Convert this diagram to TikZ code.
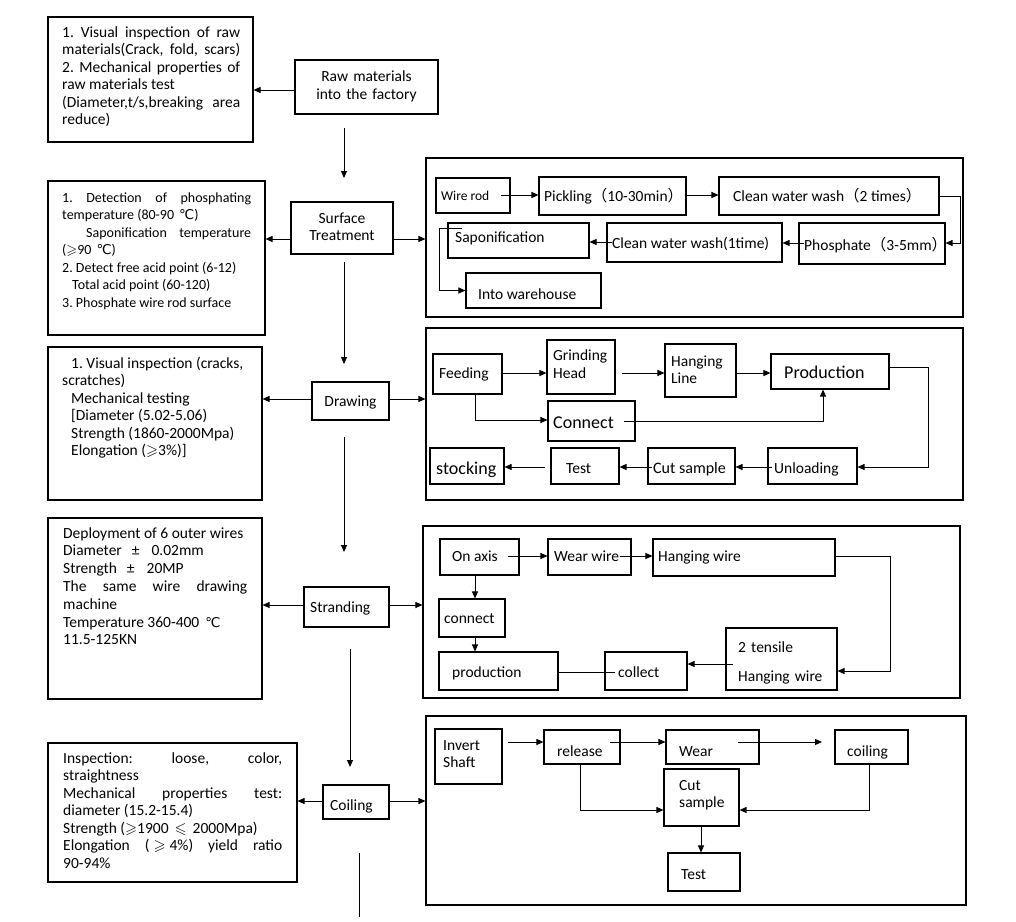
\documentclass[tikz,border=0pt]{standalone}
\usepackage{amssymb}
\usepackage{fontspec}
\setmainfont{Carlito}
\newfontfamily\dv{DejaVu Sans}
\newfontfamily\cjk{Noto Sans CJK SC}
\usetikzlibrary{arrows.meta,fit}
\frenchspacing
\newcommand\fs[2][17.5]{\fontsize{#2}{#1}\selectfont}
\newcommand\dC{{\dv\fontsize{13.5}{13.5}\selectfont ℃}}
\newcommand\lp{{\cjk （}}
\newcommand\rp{{\cjk ）}}
\newcommand\gs{$\geqslant$}
\newcommand\lsq{$\leqslant$}
\begin{document}
\begin{tikzpicture}[x=1pt,y=-1pt,
  bx/.style={draw, line width=1.1pt, inner sep=0pt},
  tx/.style={inner sep=0pt, anchor=base west, align=left, font=\fs{15.5}},
  jt/.style={inner sep=0pt, anchor=base west, align=justify, font={\fs{15.5}\frenchspacing\tolerance=10000\hyphenpenalty=10000}},
  ar/.style={line width=1pt, -{Triangle[length=7pt,width=6pt]}},
  ln/.style={line width=1pt}]
\useasboundingbox (0,0) rectangle (1016,921);

% ---------- left check boxes ----------
\node[bx, fit={(48,17)(253,142)}] (q1) {};
\node[jt, text width=178pt] (q1t) at (62,37) {1. Visual inspection of raw\linebreak materials(Crack, fold, scars)\linebreak 2. Mechanical properties of\linebreak raw materials test\newline (Diameter,t/s,breaking area\linebreak reduce)};

\node[bx, fit={(48,181)(265,335)}] (q2) {};
\node[jt, text width=189pt, font={\fs{14}\frenchspacing\tolerance=10000\hyphenpenalty=10000}] (q2t) at (62,202) {1. Detection of phosphating\linebreak temperature (80-90\hspace{5pt}\dC)\newline \hspace*{24pt}Saponification temperature\linebreak (\gs90\hspace{5pt}\dC)\newline 2. Detect free acid point (6-12)\newline \hspace*{10pt}Total acid point (60-120)\newline 3. Phosphate wire rod surface};

\node[bx, fit={(48,347)(262,500)}] (q3) {};
\node[jt, text width=186pt] (q3t) at (62,368) {\hspace*{9pt}1. Visual inspection (cracks,\newline scratches)\newline \hspace*{9pt}Mechanical testing\newline \hspace*{9pt}[Diameter (5.02-5.06)\newline \hspace*{9pt}Strength (1860-2000Mpa)\newline \hspace*{9pt}Elongation (\gs3\%)]};

\node[bx, fit={(48,518)(262,699)}] (q4) {};
\node[jt, text width=184pt, font={\fs[17.8]{15.5}\frenchspacing\tolerance=10000\hyphenpenalty=10000}] (q4t) at (63,538) {Deployment of 6 outer wires\newline Diameter\hspace{10pt}±\hspace{12pt}0.02mm\newline Strength\hspace{10pt}±\hspace{12pt}20MP\newline The same wire drawing\linebreak machine\newline Temperature 360-400\hspace{6pt}\dC\newline 11.5-125KN};

\node[bx, fit={(48,743)(297,882)}] (q5) {};
\node[jt, text width=219pt] (q5t) at (63,763) {Inspection: loose, color,\linebreak straightness\newline Mechanical properties test:\linebreak diameter (15.2-15.4)\newline Strength (\gs1900\hspace{6pt}\lsq\hspace{6pt}2000Mpa)\newline Elongation (\hspace{4pt}\gs\hspace{4pt}4\%) yield ratio\linebreak 90-94\%};

% ---------- centre column ----------
\node[bx, fit={(295,60)(438,114)}] (raw) {};
\node[tx, anchor=base, text width=140pt, align=center, font={\fs[18]{15.5}}] (rawt) at (366.5,81) {Raw materials\\into the factory};
\node[bx, fit={(291,202)(393,254)}] (st) {};
\node[tx, anchor=base, text width=100pt, align=center, font={\fs[17]{15.5}}] (stt) at (342,223) {Surface\\Treatment};
\node[bx, fit={(312,382)(389,420)}] (dr) {};
\node[tx, anchor=base] (drt) at (350.5,406) {Drawing};
\node[bx, fit={(304,587)(389,627)}] (sr) {};
\node[tx] (srt) at (310,612) {Stranding};
\node[bx, fit={(323,785)(389,819)}] (cg) {};
\node[tx] (cgt) at (330,810) {Coiling};

\coordinate (v1a) at (344,128); \coordinate (v1b) at (344,178);
\coordinate (v2a) at (344,262); \coordinate (v2b) at (344,364);
\coordinate (v3a) at (344,437); \coordinate (v3b) at (344,552);
\coordinate (v4a) at (350,649); \coordinate (v4b) at (350,767);
\coordinate (v5a) at (359,853); \coordinate (v5b) at (359,917);
\draw[ar] (v1a) -- (v1b);
\draw[ar] (v2a) -- (v2b);
\draw[ar] (v3a) -- (v3b);
\draw[ar] (v4a) -- (v4b);
\draw[ln] (v5a) -- (v5b);

% ---------- panels ----------
\node[bx, fit={(426,158)(963,317)}] (sp) {};
\node[bx, fit={(426,328)(963,500)}] (dp) {};
\node[bx, fit={(423,526)(960,698)}] (sp2) {};
\node[bx, fit={(426,716)(966,905)}] (cp) {};

\coordinate (h1) at (0,90);
\coordinate (h2) at (0,239);
\coordinate (h3) at (0,399);
\coordinate (h4) at (0,605);
\coordinate (h5) at (0,801);
\draw[ar] (raw.west |- h1) -- (q1.east |- h1);
\draw[ar] (st.west |- h2) -- (q2.east |- h2);
\draw[ar] (st.east |- h2) -- (sp.west |- h2);
\draw[ar] (dr.west |- h3) -- (q3.east |- h3);
\draw[ar] (dr.east |- h3) -- (dp.west |- h3);
\draw[ar] (sr.west |- h4) -- (q4.east |- h4);
\draw[ar] (sr.east |- h4) -- (sp2.west |- h4);
\draw[ar] (cg.west |- h5) -- (q5.east |- h5);
\draw[ar] (cg.east |- h5) -- (cp.west |- h5);

% ---------- surface treatment panel ----------
\node[bx, fit={(436,178)(510,213)}] (wr) {};
\node[tx, font=\fs{13.5}] (wrt) at (441,200) {Wire rod};
\node[bx, fit={(539,177)(686,215)}] (pk) {};
\node[tx] (pkt) at (544,201) {Pickling\lp 10-30min\rp};
\node[bx, fit={(719,177)(939,215)}] (cw2) {};
\node[tx] (cw2t) at (733,201) {Clean water wash\lp 2 times\rp};
\node[bx, fit={(799,223)(945,264)}] (ph) {};
\node[tx] (pht) at (804,250) {Phosphate\lp 3-5mm\rp};
\node[bx, fit={(607,223)(782,262)}] (cw1) {};
\node[tx] (cw1t) at (612,248) {Clean water wash(1time)};
\node[bx, fit={(448,223)(589,258)}] (sap) {};
\node[tx] (sapt) at (455,242) {Saponification};
\node[bx, fit={(466,273)(601,308)}] (iw) {};
\node[tx] (iwt) at (478,299) {Into warehouse};

\coordinate (a1) at (501,195);
\draw[ar] (a1) -- (a1 -| pk.west);
\draw[ar] (pk.east |- a1) -- (a1 -| cw2.west);
\coordinate (a2) at (960,196); \coordinate (a3) at (960,243);
\draw[ar] (cw2.east |- a2) -- (a2) -- (a3) -- (a3 -| ph.east);
\coordinate (a4) at (804,243);
\draw[ar] (a4) -- (a4 -| cw1.east);
\coordinate (a5) at (612,242);
\draw[ar] (a5) -- (a5 -| sap.east);
\coordinate (a6) at (462,228); \coordinate (a7) at (439,228);
\draw[ar] (a6) -- (a7) |- (iw.west);

% ---------- drawing panel ----------
\node[bx, fit={(433,354)(502,394)}] (fd) {};
\node[tx] (fdt) at (439,378) {Feeding};
\node[bx, fit={(547,340)(615,394)}] (gh) {};
\node[tx, text width=60pt, font={\fs[18]{15.5}}] (ght) at (553,360) {Grinding\\Head};
\node[bx, fit={(665,344)(736,397)}] (hl) {};
\node[tx, text width=60pt, font={\fs[17]{15.5}}] (hlt) at (671,366) {Hanging\\Line};
\node[bx, fit={(771,354)(889,389)}] (pr) {};
\node[tx, font=\fs{18}] (prt) at (784,378) {Production};
\node[bx, fit={(548,401)(635,441)}] (cn) {};
\node[tx, font=\fs{18}] (cnt) at (553,428) {Connect};
\node[bx, fit={(430,448)(504,484)}] (sk) {};
\node[tx, font=\fs{18}] (skt) at (436,474) {stocking};
\node[bx, fit={(551,448)(619,484)}] (ts) {};
\node[tx, font=\fs{15.5}] (tst) at (566,473) {Test};
\node[bx, fit={(648,448)(735,484)}] (cs) {};
\node[tx, font=\fs{16}] (cst) at (653,473) {Cut sample};
\node[bx, fit={(768,448)(857,484)}] (ul) {};
\node[tx, font=\fs{15.5}] (ult) at (774,473) {Unloading};

\coordinate (d0) at (0,373);
\draw[ar] (fd.east |- d0) -- (gh.west |- d0);
\coordinate (d1) at (622,373);
\draw[ar] (d1) -- (d1 -| hl.west);
\draw[ar] (hl.east |- d1) -- (d1 -| pr.west);
\coordinate (d2) at (475,420);
\draw[ar] (fd.south -| d2) -- (d2) -- (d2 -| cn.west);
\coordinate (d3) at (624,421); \coordinate (d4) at (823,421);
\draw[ar] (d3) -- (d4) -- (d4 |- pr.south);
\coordinate (d5) at (928,367); \coordinate (d6) at (928,467);
\draw[ar] (pr.east |- d5) -- (d5) -- (d6) -- (d6 -| ul.east);
\coordinate (d7) at (772,467);
\draw[ar] (d7) -- (d7 -| cs.east);
\coordinate (d8) at (652,467);
\draw[ar] (d8) -- (d8 -| ts.east);
\coordinate (d9) at (545,467);
\draw[ar] (d9) -- (d9 -| sk.east);

% ---------- stranding panel ----------
\node[bx, fit={(440,539)(519,575)}] (oa) {};
\node[tx] (oat) at (452,561) {On axis};
\node[bx, fit={(548,539)(631,575)}] (ww) {};
\node[tx] (wwt) at (554,561) {Wear wire};
\node[bx, fit={(653,539)(835,576)}] (hw) {};
\node[tx] (hwt) at (658,561) {Hanging wire};
\node[bx, fit={(439,599)(505,637)}] (cc) {};
\node[tx] (cct) at (444,623) {connect};
\node[bx, fit={(439,652)(558,690)}] (pd) {};
\node[tx] (pdt) at (452,677) {production};
\node[bx, fit={(605,652)(687,690)}] (cl) {};
\node[tx] (clt) at (618,677) {collect};
\node[bx, fit={(726,628)(837,690)}] (tt) {};
\node[tx, text width=100pt, font={\fs[29]{15.5}}] (ttt) at (738,652) {2 tensile\\Hanging wire};

\coordinate (s0) at (508,556);
\draw[ar] (s0) -- (s0 -| ww.west);
\coordinate (s1) at (620,556);
\draw[ar] (s1) -- (s1 -| hw.west);
\coordinate (s2) at (890,556); \coordinate (s3) at (890,671);
\draw[ar] (hw.east |- s2) -- (s2) -- (s3) -- (s3 -| tt.east);
\coordinate (s4) at (733,664);
\draw[ar] (s4) -- (s4 -| cl.east);
\coordinate (s5) at (615,672);
\draw[ln] (s5) -- (s5 -| pd.east);
\coordinate (s6) at (475,0);
\draw[ar] (oa.south -| s6) -- (cc.north -| s6);
\draw[ar] (cc.south -| s6) -- (pd.north -| s6);

% ---------- coiling panel ----------
\node[bx, fit={(435,729)(502,784)}] (is) {};
\node[tx, text width=60pt, font={\fs[17]{15.5}}] (ist) at (443,750) {Invert\\Shaft};
\node[bx, fit={(544,730)(620,764)}] (rl) {};
\node[tx] (rlt) at (557,756) {release};
\node[bx, fit={(666,730)(759,764)}] (we) {};
\node[tx] (wet) at (679,756) {Wear};
\node[bx, fit={(835,730)(908,764)}] (co) {};
\node[tx] (cot) at (847,756) {coiling};
\node[bx, fit={(664,769)(739,826)}] (ct) {};
\node[tx, text width=60pt, font={\fs[17]{15.5}}] (ctt) at (679,790) {Cut\\sample};
\node[bx, fit={(668,853)(740,891)}] (te) {};
\node[tx] (tet) at (681,879) {Test};

\coordinate (k1) at (508,742);
\draw[ar] (k1) -- (k1 -| rl.west);
\coordinate (k2) at (610,742);
\draw[ar] (k2) -- (k2 -| we.west);
\coordinate (k3) at (738,742); \coordinate (k4) at (822,742);
\draw[ar] (k3) -- (k4);
\coordinate (k5) at (580,810);
\draw[ar] (rl.south -| k5) -- (k5) -- (k5 -| ct.west);
\coordinate (k6) at (869,810);
\draw[ar] (co.south -| k6) -- (k6) -- (k6 -| ct.east);
\coordinate (k7) at (701,0);
\draw[ar] (ct.south -| k7) -- (te.north -| k7);
\end{tikzpicture}
\end{document}
